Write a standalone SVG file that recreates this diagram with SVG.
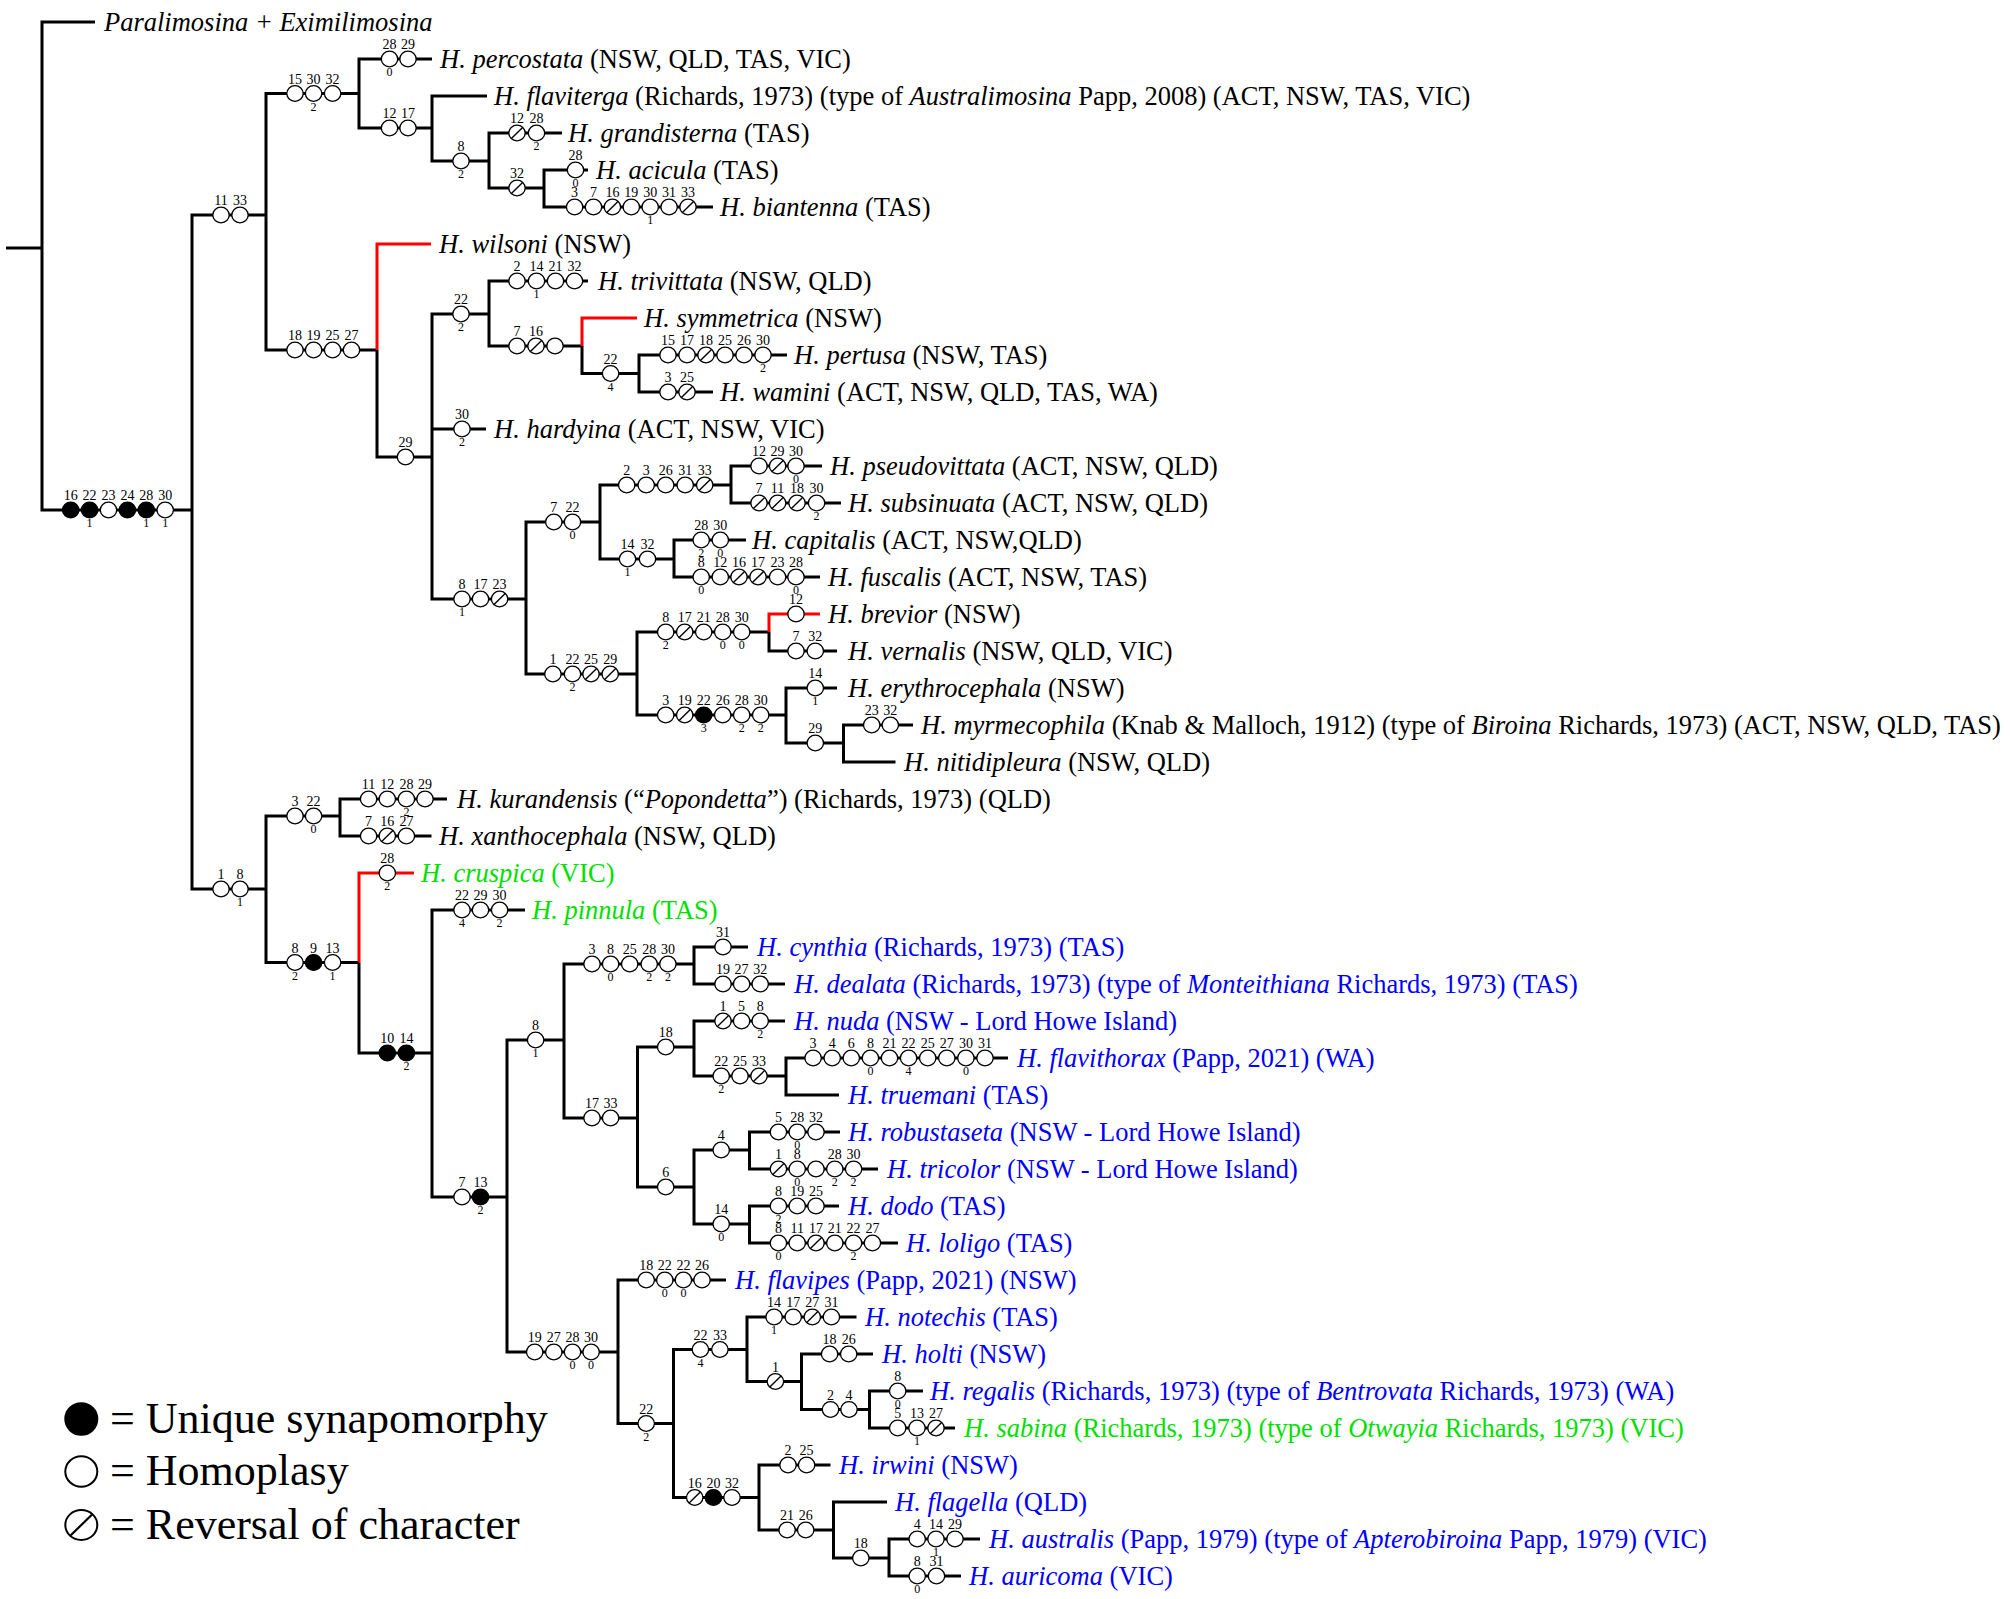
<svg xmlns="http://www.w3.org/2000/svg" xmlns:xlink="http://www.w3.org/1999/xlink" width="2012" height="1599" viewBox="0 0 2012 1599">
<style>
.k{fill:none;stroke:#000;stroke-width:3}
.rd{fill:none;stroke:#f00;stroke-width:3}
.t{font-family:"Liberation Serif","Times New Roman",serif;font-size:26.5px;fill:#000}
.i{font-style:italic}
.bl{fill:#00f}
.gr{fill:#00e000}
.a,.b{font-family:"Liberation Serif","Times New Roman",serif;text-anchor:middle;fill:#000}
.a{font-size:14px}
.b{font-size:12px}
.lg{font-family:"Liberation Serif","Times New Roman",serif;font-size:44px;fill:#000}
</style>
<defs>
<ellipse id="o" rx="8.2" ry="7.9" fill="#fff" stroke="#000" stroke-width="1.3"/>
<ellipse id="f" rx="8.2" ry="7.9" fill="#000" stroke="#000" stroke-width="1.3"/>
<g id="r"><ellipse rx="8.2" ry="7.9" fill="#fff" stroke="#000" stroke-width="1.3"/><path d="M-5.6,5.4 L5.6,-5.4" stroke="#000" stroke-width="1.4"/></g>
</defs>
<rect width="2012" height="1599" fill="#fff"/>
<g id="connectors">
<path class="k" d="M6,248 H42"/>
<path class="k" d="M95,22 H42 V510 H192"/>
<path class="k" d="M266,215 H192 V889 H266"/>
<path class="k" d="M359,93.5 H266 V350 H377"/>
<path class="k" d="M432,59 H359 V128 H432"/>
<path class="k" d="M487,96 H432 V161 H489"/>
<path class="k" d="M562,133 H489 V188 H544"/>
<path class="k" d="M588,170 H544 V207 H713"/>
<path class="rd" d="M431,244 H377 V350"/>
<path class="k" d="M377,350 V457 H432"/>
<path class="k" d="M489,314 H432 V599 H526 M432,429 H486"/>
<path class="k" d="M588,281 H489 V346 H582"/>
<path class="rd" d="M637,318 H582 V346"/>
<path class="k" d="M582,346 V373.5 H639"/>
<path class="k" d="M787,355 H639 V392 H713"/>
<path class="k" d="M600,522 H526 V674 H637"/>
<path class="k" d="M731,485 H600 V559 H674"/>
<path class="k" d="M822,466 H731 V503 H841"/>
<path class="k" d="M746,540 H674 V577 H820"/>
<path class="k" d="M769,632 H637 V715 H786"/>
<path class="rd" d="M820,614 H769 V632"/>
<path class="k" d="M769,632 V651 H837"/>
<path class="k" d="M837,688 H786 V743 H843.5"/>
<path class="k" d="M913,725 H843.5 V762 H895.5"/>
<path class="k" d="M340,816 H266 V962.5 H359"/>
<path class="k" d="M447,799 H340 V836 H431.5"/>
<path class="rd" d="M414,873 H359 V962.5"/>
<path class="k" d="M359,962.5 V1053 H432"/>
<path class="k" d="M525,910 H432 V1197 H507"/>
<path class="k" d="M564,1040 H507 V1352 H618"/>
<path class="k" d="M694,964 H564 V1118 H637.5"/>
<path class="k" d="M748,947 H694 V984 H785"/>
<path class="k" d="M694,1047 H637.5 V1187 H694"/>
<path class="k" d="M785,1021 H694 V1076 H786"/>
<path class="k" d="M1008,1058 H786 V1095 H839"/>
<path class="k" d="M749.5,1150 H694 V1224 H749.5"/>
<path class="k" d="M840,1132 H749.5 V1169 H878"/>
<path class="k" d="M839,1206 H749.5 V1243 H898"/>
<path class="k" d="M726,1280 H618 V1423.5 H673.5"/>
<path class="k" d="M747,1349.5 H673.5 V1497.5 H759"/>
<path class="k" d="M856.5,1317 H747 V1381.5 H801.5"/>
<path class="k" d="M873,1354 H801.5 V1409.5 H869.5"/>
<path class="k" d="M923,1391 H869.5 V1428 H955"/>
<path class="k" d="M830.5,1465 H759 V1530 H833.5"/>
<path class="k" d="M887,1502 H833.5 V1558 H889"/>
<path class="k" d="M980,1539 H889 V1576 H961"/>
</g>
<g id="characters">
<g id="ch-ingroup" transform="translate(0,510)"><use href="#f" x="70.7"/><use href="#f" x="89.6"/><use href="#o" x="108.5"/><use href="#f" x="127.4"/><use href="#f" x="146.3"/><use href="#o" x="165.2"/><text class="a" x="70.7" y="-10">16</text><text class="a" x="89.6" y="-10">22</text><text class="a" x="108.5" y="-10">23</text><text class="a" x="127.4" y="-10">24</text><text class="a" x="146.3" y="-10">28</text><text class="a" x="165.2" y="-10">30</text><text class="b" x="89.6" y="17">1</text><text class="b" x="146.3" y="17">1</text><text class="b" x="165.2" y="17">1</text></g>
<g id="ch-1133" transform="translate(0,215)"><use href="#o" x="221"/><use href="#o" x="240"/><text class="a" x="221" y="-10">11</text><text class="a" x="240" y="-10">33</text></g>
<g id="ch-153032" transform="translate(0,93.5)"><use href="#o" x="295"/><use href="#o" x="313.6"/><use href="#o" x="332.6"/><text class="a" x="295" y="-10">15</text><text class="a" x="313.6" y="-10">30</text><text class="a" x="332.6" y="-10">32</text><text class="b" x="313.6" y="17">2</text></g>
<g id="ch-percostata" transform="translate(0,59)"><use href="#o" x="389.5"/><use href="#o" x="408"/><text class="a" x="389.5" y="-10">28</text><text class="a" x="408" y="-10">29</text><text class="b" x="389.5" y="17">0</text></g>
<g id="ch-1217" transform="translate(0,128)"><use href="#o" x="389.5"/><use href="#o" x="408"/><text class="a" x="389.5" y="-10">12</text><text class="a" x="408" y="-10">17</text></g>
<g id="ch-8a" transform="translate(0,161)"><use href="#o" x="461"/><text class="a" x="461" y="-10">8</text><text class="b" x="461" y="17">2</text></g>
<g id="ch-grandisterna" transform="translate(0,133)"><use href="#r" x="517"/><use href="#o" x="536.5"/><text class="a" x="517" y="-10">12</text><text class="a" x="536.5" y="-10">28</text><text class="b" x="536.5" y="17">2</text></g>
<g id="ch-32a" transform="translate(0,188)"><use href="#r" x="517"/><text class="a" x="517" y="-10">32</text></g>
<g id="ch-acicula" transform="translate(0,170)"><use href="#o" x="575.5"/><text class="a" x="575.5" y="-10">28</text><text class="b" x="575.5" y="17">0</text></g>
<g id="ch-biantenna" transform="translate(0,207)"><use href="#o" x="574.6"/><use href="#o" x="593.5"/><use href="#r" x="612.4"/><use href="#o" x="631.3"/><use href="#o" x="650.2"/><use href="#o" x="669.1"/><use href="#r" x="688"/><text class="a" x="574.6" y="-10">3</text><text class="a" x="593.5" y="-10">7</text><text class="a" x="612.4" y="-10">16</text><text class="a" x="631.3" y="-10">19</text><text class="a" x="650.2" y="-10">30</text><text class="a" x="669.1" y="-10">31</text><text class="a" x="688" y="-10">33</text><text class="b" x="650.2" y="17">1</text></g>
<g id="ch-18192527" transform="translate(0,350)"><use href="#o" x="295"/><use href="#o" x="313.6"/><use href="#o" x="332.6"/><use href="#o" x="351.5"/><text class="a" x="295" y="-10">18</text><text class="a" x="313.6" y="-10">19</text><text class="a" x="332.6" y="-10">25</text><text class="a" x="351.5" y="-10">27</text></g>
<g id="ch-29a" transform="translate(0,457)"><use href="#o" x="405.5"/><text class="a" x="405.5" y="-10">29</text></g>
<g id="ch-22a" transform="translate(0,314)"><use href="#o" x="461"/><text class="a" x="461" y="-10">22</text><text class="b" x="461" y="17">2</text></g>
<g id="ch-trivittata" transform="translate(0,281)"><use href="#o" x="517"/><use href="#o" x="536.5"/><use href="#o" x="555.5"/><use href="#o" x="574.5"/><text class="a" x="517" y="-10">2</text><text class="a" x="536.5" y="-10">14</text><text class="a" x="555.5" y="-10">21</text><text class="a" x="574.5" y="-10">32</text><text class="b" x="536.5" y="17">1</text></g>
<g id="ch-hardyina" transform="translate(0,429)"><use href="#o" x="462"/><text class="a" x="462" y="-10">30</text><text class="b" x="462" y="17">2</text></g>
<g id="ch-716" transform="translate(0,346)"><use href="#o" x="517"/><use href="#r" x="536"/><use href="#o" x="555"/><text class="a" x="517" y="-10">7</text><text class="a" x="536" y="-10">16</text></g>
<g id="ch-22b" transform="translate(0,373.5)"><use href="#o" x="610.6"/><text class="a" x="610.6" y="-10">22</text><text class="b" x="610.6" y="17">4</text></g>
<g id="ch-pertusa" transform="translate(0,355)"><use href="#o" x="668"/><use href="#o" x="687"/><use href="#r" x="706"/><use href="#o" x="725"/><use href="#o" x="744"/><use href="#o" x="763"/><text class="a" x="668" y="-10">15</text><text class="a" x="687" y="-10">17</text><text class="a" x="706" y="-10">18</text><text class="a" x="725" y="-10">25</text><text class="a" x="744" y="-10">26</text><text class="a" x="763" y="-10">30</text><text class="b" x="763" y="17">2</text></g>
<g id="ch-wamini" transform="translate(0,392)"><use href="#o" x="668"/><use href="#r" x="687"/><text class="a" x="668" y="-10">3</text><text class="a" x="687" y="-10">25</text></g>
<g id="ch-81723" transform="translate(0,599)"><use href="#o" x="462"/><use href="#o" x="480.5"/><use href="#r" x="499.6"/><text class="a" x="462" y="-10">8</text><text class="a" x="480.5" y="-10">17</text><text class="a" x="499.6" y="-10">23</text><text class="b" x="462" y="17">1</text></g>
<g id="ch-722" transform="translate(0,522)"><use href="#o" x="553.8"/><use href="#o" x="572.5"/><text class="a" x="553.8" y="-10">7</text><text class="a" x="572.5" y="-10">22</text><text class="b" x="572.5" y="17">0</text></g>
<g id="ch-23263133" transform="translate(0,485)"><use href="#o" x="626.7"/><use href="#o" x="646.2"/><use href="#o" x="665.7"/><use href="#o" x="685.2"/><use href="#r" x="704.7"/><text class="a" x="626.7" y="-10">2</text><text class="a" x="646.2" y="-10">3</text><text class="a" x="665.7" y="-10">26</text><text class="a" x="685.2" y="-10">31</text><text class="a" x="704.7" y="-10">33</text></g>
<g id="ch-pseudovittata" transform="translate(0,466)"><use href="#o" x="759"/><use href="#r" x="777.6"/><use href="#o" x="796"/><text class="a" x="759" y="-10">12</text><text class="a" x="777.6" y="-10">29</text><text class="a" x="796" y="-10">30</text><text class="b" x="796" y="17">0</text></g>
<g id="ch-subsinuata" transform="translate(0,503)"><use href="#r" x="759"/><use href="#r" x="777.6"/><use href="#r" x="797"/><use href="#o" x="816.6"/><text class="a" x="759" y="-10">7</text><text class="a" x="777.6" y="-10">11</text><text class="a" x="797" y="-10">18</text><text class="a" x="816.6" y="-10">30</text><text class="b" x="816.6" y="17">2</text></g>
<g id="ch-1432" transform="translate(0,559)"><use href="#o" x="627.5"/><use href="#o" x="647.5"/><text class="a" x="627.5" y="-10">14</text><text class="a" x="647.5" y="-10">32</text><text class="b" x="627.5" y="17">1</text></g>
<g id="ch-capitalis" transform="translate(0,540)"><use href="#o" x="701.2"/><use href="#o" x="720.3"/><text class="a" x="701.2" y="-10">28</text><text class="a" x="720.3" y="-10">30</text><text class="b" x="701.2" y="17">2</text><text class="b" x="720.3" y="17">0</text></g>
<g id="ch-fuscalis" transform="translate(0,577)"><use href="#o" x="701.2"/><use href="#o" x="720.3"/><use href="#r" x="739"/><use href="#r" x="758"/><use href="#o" x="777.6"/><use href="#o" x="796"/><text class="a" x="701.2" y="-10">8</text><text class="a" x="720.3" y="-10">12</text><text class="a" x="739" y="-10">16</text><text class="a" x="758" y="-10">17</text><text class="a" x="777.6" y="-10">23</text><text class="a" x="796" y="-10">28</text><text class="b" x="701.2" y="17">0</text><text class="b" x="796" y="17">0</text></g>
<g id="ch-1222529" transform="translate(0,674)"><use href="#o" x="552.9"/><use href="#o" x="572.5"/><use href="#r" x="591"/><use href="#r" x="610.2"/><text class="a" x="552.9" y="-10">1</text><text class="a" x="572.5" y="-10">22</text><text class="a" x="591" y="-10">25</text><text class="a" x="610.2" y="-10">29</text><text class="b" x="572.5" y="17">2</text></g>
<g id="ch-817212830" transform="translate(0,632)"><use href="#o" x="665.7"/><use href="#r" x="684.7"/><use href="#o" x="703.7"/><use href="#o" x="722.7"/><use href="#o" x="741.7"/><text class="a" x="665.7" y="-10">8</text><text class="a" x="684.7" y="-10">17</text><text class="a" x="703.7" y="-10">21</text><text class="a" x="722.7" y="-10">28</text><text class="a" x="741.7" y="-10">30</text><text class="b" x="665.7" y="17">2</text><text class="b" x="722.7" y="17">0</text><text class="b" x="741.7" y="17">0</text></g>
<g id="ch-brevior" transform="translate(0,614)"><use href="#o" x="796"/><text class="a" x="796" y="-10">12</text></g>
<g id="ch-vernalis" transform="translate(0,651)"><use href="#o" x="796"/><use href="#o" x="815.3"/><text class="a" x="796" y="-10">7</text><text class="a" x="815.3" y="-10">32</text></g>
<g id="ch-31922262830" transform="translate(0,715)"><use href="#o" x="665.7"/><use href="#r" x="684.7"/><use href="#f" x="703.7"/><use href="#o" x="722.7"/><use href="#o" x="741.7"/><use href="#o" x="760.7"/><text class="a" x="665.7" y="-10">3</text><text class="a" x="684.7" y="-10">19</text><text class="a" x="703.7" y="-10">22</text><text class="a" x="722.7" y="-10">26</text><text class="a" x="741.7" y="-10">28</text><text class="a" x="760.7" y="-10">30</text><text class="b" x="703.7" y="17">3</text><text class="b" x="741.7" y="17">2</text><text class="b" x="760.7" y="17">2</text></g>
<g id="ch-erythrocephala" transform="translate(0,688)"><use href="#o" x="815.3"/><text class="a" x="815.3" y="-10">14</text><text class="b" x="815.3" y="17">1</text></g>
<g id="ch-29b" transform="translate(0,743)"><use href="#o" x="815.3"/><text class="a" x="815.3" y="-10">29</text></g>
<g id="ch-myrmecophila" transform="translate(0,725)"><use href="#o" x="871.7"/><use href="#o" x="890.3"/><text class="a" x="871.7" y="-10">23</text><text class="a" x="890.3" y="-10">32</text></g>
<g id="ch-18" transform="translate(0,889)"><use href="#o" x="221"/><use href="#o" x="240"/><text class="a" x="221" y="-10">1</text><text class="a" x="240" y="-10">8</text><text class="b" x="240" y="17">1</text></g>
<g id="ch-322" transform="translate(0,816)"><use href="#o" x="295"/><use href="#o" x="313.6"/><text class="a" x="295" y="-10">3</text><text class="a" x="313.6" y="-10">22</text><text class="b" x="313.6" y="17">0</text></g>
<g id="ch-kurandensis" transform="translate(0,799)"><use href="#o" x="368.6"/><use href="#o" x="387.3"/><use href="#o" x="406.4"/><use href="#o" x="425"/><text class="a" x="368.6" y="-10">11</text><text class="a" x="387.3" y="-10">12</text><text class="a" x="406.4" y="-10">28</text><text class="a" x="425" y="-10">29</text><text class="b" x="406.4" y="17">2</text></g>
<g id="ch-xanthocephala" transform="translate(0,836)"><use href="#o" x="368.6"/><use href="#r" x="387.3"/><use href="#o" x="406.4"/><text class="a" x="368.6" y="-10">7</text><text class="a" x="387.3" y="-10">16</text><text class="a" x="406.4" y="-10">27</text></g>
<g id="ch-8913" transform="translate(0,962.5)"><use href="#o" x="295"/><use href="#f" x="313.6"/><use href="#o" x="332.6"/><text class="a" x="295" y="-10">8</text><text class="a" x="313.6" y="-10">9</text><text class="a" x="332.6" y="-10">13</text><text class="b" x="295" y="17">2</text><text class="b" x="332.6" y="17">1</text></g>
<g id="ch-cruspica" transform="translate(0,873)"><use href="#o" x="387.3"/><text class="a" x="387.3" y="-10">28</text><text class="b" x="387.3" y="17">2</text></g>
<g id="ch-1014" transform="translate(0,1053)"><use href="#f" x="387.3"/><use href="#f" x="406.4"/><text class="a" x="387.3" y="-10">10</text><text class="a" x="406.4" y="-10">14</text><text class="b" x="406.4" y="17">2</text></g>
<g id="ch-pinnula" transform="translate(0,910)"><use href="#o" x="462"/><use href="#o" x="480.5"/><use href="#o" x="499.6"/><text class="a" x="462" y="-10">22</text><text class="a" x="480.5" y="-10">29</text><text class="a" x="499.6" y="-10">30</text><text class="b" x="462" y="17">4</text><text class="b" x="499.6" y="17">2</text></g>
<g id="ch-713" transform="translate(0,1197)"><use href="#o" x="462"/><use href="#f" x="480.5"/><text class="a" x="462" y="-10">7</text><text class="a" x="480.5" y="-10">13</text><text class="b" x="480.5" y="17">2</text></g>
<g id="ch-8b" transform="translate(0,1040)"><use href="#o" x="535.6"/><text class="a" x="535.6" y="-10">8</text><text class="b" x="535.6" y="17">1</text></g>
<g id="ch-38252830" transform="translate(0,964)"><use href="#o" x="592"/><use href="#o" x="610.6"/><use href="#o" x="629.7"/><use href="#o" x="649.2"/><use href="#o" x="667.9"/><text class="a" x="592" y="-10">3</text><text class="a" x="610.6" y="-10">8</text><text class="a" x="629.7" y="-10">25</text><text class="a" x="649.2" y="-10">28</text><text class="a" x="667.9" y="-10">30</text><text class="b" x="610.6" y="17">0</text><text class="b" x="649.2" y="17">2</text><text class="b" x="667.9" y="17">2</text></g>
<g id="ch-cynthia" transform="translate(0,947)"><use href="#o" x="723"/><text class="a" x="723" y="-10">31</text></g>
<g id="ch-dealata" transform="translate(0,984)"><use href="#o" x="723"/><use href="#o" x="741.6"/><use href="#o" x="760.2"/><text class="a" x="723" y="-10">19</text><text class="a" x="741.6" y="-10">27</text><text class="a" x="760.2" y="-10">32</text></g>
<g id="ch-1733" transform="translate(0,1118)"><use href="#o" x="592"/><use href="#o" x="610.6"/><text class="a" x="592" y="-10">17</text><text class="a" x="610.6" y="-10">33</text></g>
<g id="ch-18b" transform="translate(0,1047)"><use href="#o" x="665.7"/><text class="a" x="665.7" y="-10">18</text></g>
<g id="ch-nuda" transform="translate(0,1021)"><use href="#r" x="723"/><use href="#o" x="741.6"/><use href="#o" x="760.2"/><text class="a" x="723" y="-10">1</text><text class="a" x="741.6" y="-10">5</text><text class="a" x="760.2" y="-10">8</text><text class="b" x="760.2" y="17">2</text></g>
<g id="ch-222533" transform="translate(0,1076)"><use href="#o" x="721.2"/><use href="#o" x="740"/><use href="#r" x="759"/><text class="a" x="721.2" y="-10">22</text><text class="a" x="740" y="-10">25</text><text class="a" x="759" y="-10">33</text><text class="b" x="721.2" y="17">2</text></g>
<g id="ch-flavithorax" transform="translate(0,1058)"><use href="#o" x="813.1"/><use href="#o" x="832.2"/><use href="#o" x="851.3"/><use href="#o" x="870.4"/><use href="#o" x="889.5"/><use href="#o" x="908.6"/><use href="#o" x="927.7"/><use href="#o" x="946.8"/><use href="#o" x="965.9"/><use href="#o" x="985"/><text class="a" x="813.1" y="-10">3</text><text class="a" x="832.2" y="-10">4</text><text class="a" x="851.3" y="-10">6</text><text class="a" x="870.4" y="-10">8</text><text class="a" x="889.5" y="-10">21</text><text class="a" x="908.6" y="-10">22</text><text class="a" x="927.7" y="-10">25</text><text class="a" x="946.8" y="-10">27</text><text class="a" x="965.9" y="-10">30</text><text class="a" x="985" y="-10">31</text><text class="b" x="870.4" y="17">0</text><text class="b" x="908.6" y="17">4</text><text class="b" x="965.9" y="17">0</text></g>
<g id="ch-6" transform="translate(0,1187)"><use href="#o" x="665.7"/><text class="a" x="665.7" y="-10">6</text></g>
<g id="ch-4" transform="translate(0,1150)"><use href="#o" x="721.2"/><text class="a" x="721.2" y="-10">4</text></g>
<g id="ch-robustaseta" transform="translate(0,1132)"><use href="#o" x="778.4"/><use href="#o" x="797.2"/><use href="#o" x="816"/><text class="a" x="778.4" y="-10">5</text><text class="a" x="797.2" y="-10">28</text><text class="a" x="816" y="-10">32</text><text class="b" x="797.2" y="17">0</text></g>
<g id="ch-tricolor" transform="translate(0,1169)"><use href="#r" x="778.4"/><use href="#o" x="797.2"/><use href="#o" x="816"/><use href="#o" x="834.8"/><use href="#o" x="853.6"/><text class="a" x="778.4" y="-10">1</text><text class="a" x="797.2" y="-10">8</text><text class="a" x="834.8" y="-10">28</text><text class="a" x="853.6" y="-10">30</text><text class="b" x="797.2" y="17">0</text><text class="b" x="834.8" y="17">2</text><text class="b" x="853.6" y="17">2</text></g>
<g id="ch-14" transform="translate(0,1224)"><use href="#o" x="721.2"/><text class="a" x="721.2" y="-10">14</text><text class="b" x="721.2" y="17">0</text></g>
<g id="ch-dodo" transform="translate(0,1206)"><use href="#o" x="778.4"/><use href="#o" x="797.2"/><use href="#o" x="816"/><text class="a" x="778.4" y="-10">8</text><text class="a" x="797.2" y="-10">19</text><text class="a" x="816" y="-10">25</text><text class="b" x="778.4" y="17">2</text></g>
<g id="ch-loligo" transform="translate(0,1243)"><use href="#o" x="778.4"/><use href="#o" x="797.2"/><use href="#r" x="816"/><use href="#o" x="834.8"/><use href="#o" x="853.6"/><use href="#o" x="872.4"/><text class="a" x="778.4" y="-10">8</text><text class="a" x="797.2" y="-10">11</text><text class="a" x="816" y="-10">17</text><text class="a" x="834.8" y="-10">21</text><text class="a" x="853.6" y="-10">22</text><text class="a" x="872.4" y="-10">27</text><text class="b" x="778.4" y="17">0</text><text class="b" x="853.6" y="17">2</text></g>
<g id="ch-19272830" transform="translate(0,1352)"><use href="#o" x="534.7"/><use href="#o" x="553.8"/><use href="#o" x="572.5"/><use href="#o" x="591.1"/><text class="a" x="534.7" y="-10">19</text><text class="a" x="553.8" y="-10">27</text><text class="a" x="572.5" y="-10">28</text><text class="a" x="591.1" y="-10">30</text><text class="b" x="572.5" y="17">0</text><text class="b" x="591.1" y="17">0</text></g>
<g id="ch-flavipes" transform="translate(0,1280)"><use href="#o" x="646.2"/><use href="#o" x="664.8"/><use href="#o" x="683.4"/><use href="#o" x="702"/><text class="a" x="646.2" y="-10">18</text><text class="a" x="664.8" y="-10">22</text><text class="a" x="683.4" y="-10">22</text><text class="a" x="702" y="-10">26</text><text class="b" x="664.8" y="17">0</text><text class="b" x="683.4" y="17">0</text></g>
<g id="ch-22c" transform="translate(0,1423.5)"><use href="#o" x="646.2"/><text class="a" x="646.2" y="-10">22</text><text class="b" x="646.2" y="17">2</text></g>
<g id="ch-2233" transform="translate(0,1349.5)"><use href="#o" x="700.4"/><use href="#o" x="719.9"/><text class="a" x="700.4" y="-10">22</text><text class="a" x="719.9" y="-10">33</text><text class="b" x="700.4" y="17">4</text></g>
<g id="ch-notechis" transform="translate(0,1317)"><use href="#o" x="774.1"/><use href="#o" x="793.2"/><use href="#r" x="812.3"/><use href="#o" x="831.4"/><text class="a" x="774.1" y="-10">14</text><text class="a" x="793.2" y="-10">17</text><text class="a" x="812.3" y="-10">27</text><text class="a" x="831.4" y="-10">31</text><text class="b" x="774.1" y="17">1</text></g>
<g id="ch-1" transform="translate(0,1381.5)"><use href="#r" x="775.4"/><text class="a" x="775.4" y="-10">1</text></g>
<g id="ch-holti" transform="translate(0,1354)"><use href="#o" x="829.6"/><use href="#o" x="848.7"/><text class="a" x="829.6" y="-10">18</text><text class="a" x="848.7" y="-10">26</text></g>
<g id="ch-24" transform="translate(0,1409.5)"><use href="#o" x="830.5"/><use href="#o" x="849"/><text class="a" x="830.5" y="-10">2</text><text class="a" x="849" y="-10">4</text></g>
<g id="ch-regalis" transform="translate(0,1391)"><use href="#o" x="897.7"/><text class="a" x="897.7" y="-10">8</text><text class="b" x="897.7" y="17">0</text></g>
<g id="ch-sabina" transform="translate(0,1428)"><use href="#o" x="897.7"/><use href="#o" x="917"/><use href="#r" x="936"/><text class="a" x="897.7" y="-10">5</text><text class="a" x="917" y="-10">13</text><text class="a" x="936" y="-10">27</text><text class="b" x="917" y="17">1</text></g>
<g id="ch-162032" transform="translate(0,1497.5)"><use href="#r" x="694.7"/><use href="#f" x="713.4"/><use href="#o" x="732"/><text class="a" x="694.7" y="-10">16</text><text class="a" x="713.4" y="-10">20</text><text class="a" x="732" y="-10">32</text></g>
<g id="ch-irwini" transform="translate(0,1465)"><use href="#o" x="788"/><use href="#o" x="806.6"/><text class="a" x="788" y="-10">2</text><text class="a" x="806.6" y="-10">25</text></g>
<g id="ch-2126" transform="translate(0,1530)"><use href="#o" x="787.1"/><use href="#o" x="805.7"/><text class="a" x="787.1" y="-10">21</text><text class="a" x="805.7" y="-10">26</text></g>
<g id="ch-18c" transform="translate(0,1558)"><use href="#o" x="860.8"/><text class="a" x="860.8" y="-10">18</text></g>
<g id="ch-australis" transform="translate(0,1539)"><use href="#o" x="917.2"/><use href="#o" x="936"/><use href="#o" x="955"/><text class="a" x="917.2" y="-10">4</text><text class="a" x="936" y="-10">14</text><text class="a" x="955" y="-10">29</text><text class="b" x="936" y="17">1</text></g>
<g id="ch-auricoma" transform="translate(0,1576)"><use href="#o" x="917.2"/><use href="#o" x="936.5"/><text class="a" x="917.2" y="-10">8</text><text class="a" x="936.5" y="-10">31</text><text class="b" x="917.2" y="17">0</text></g>
</g>
<g id="taxa">
<g id="t-outgroup"><text class="t i" x="104" y="31">Paralimosina + Eximilimosina</text></g>
<g id="t-percostata"><text class="t" x="440" y="68"><tspan class="i">H. percostata</tspan> (NSW, QLD, TAS, VIC)</text></g>
<g id="t-flaviterga"><text class="t" x="494" y="105"><tspan class="i">H. flaviterga</tspan> (Richards, 1973) (type of <tspan class="i">Australimosina</tspan> Papp, 2008) (ACT, NSW, TAS, VIC)</text></g>
<g id="t-grandisterna"><text class="t" x="568" y="142"><tspan class="i">H. grandisterna</tspan> (TAS)</text></g>
<g id="t-acicula"><text class="t" x="596" y="179"><tspan class="i">H. acicula</tspan> (TAS)</text></g>
<g id="t-biantenna"><text class="t" x="720" y="216"><tspan class="i">H. biantenna</tspan> (TAS)</text></g>
<g id="t-wilsoni"><text class="t" x="439" y="253"><tspan class="i">H. wilsoni</tspan> (NSW)</text></g>
<g id="t-trivittata"><text class="t" x="598" y="290"><tspan class="i">H. trivittata</tspan> (NSW, QLD)</text></g>
<g id="t-symmetrica"><text class="t" x="644" y="327"><tspan class="i">H. symmetrica</tspan> (NSW)</text></g>
<g id="t-pertusa"><text class="t" x="794" y="364"><tspan class="i">H. pertusa</tspan> (NSW, TAS)</text></g>
<g id="t-wamini"><text class="t" x="720" y="401"><tspan class="i">H. wamini</tspan> (ACT, NSW, QLD, TAS, WA)</text></g>
<g id="t-hardyina"><text class="t" x="494" y="438"><tspan class="i">H. hardyina</tspan> (ACT, NSW, VIC)</text></g>
<g id="t-pseudovittata"><text class="t" x="830" y="475"><tspan class="i">H. pseudovittata</tspan> (ACT, NSW, QLD)</text></g>
<g id="t-subsinuata"><text class="t" x="848" y="512"><tspan class="i">H. subsinuata</tspan> (ACT, NSW, QLD)</text></g>
<g id="t-capitalis"><text class="t" x="752" y="549"><tspan class="i">H. capitalis</tspan> (ACT, NSW,QLD)</text></g>
<g id="t-fuscalis"><text class="t" x="828" y="586"><tspan class="i">H. fuscalis</tspan> (ACT, NSW, TAS)</text></g>
<g id="t-brevior"><text class="t" x="828" y="623"><tspan class="i">H. brevior</tspan> (NSW)</text></g>
<g id="t-vernalis"><text class="t" x="848" y="660"><tspan class="i">H. vernalis</tspan> (NSW, QLD, VIC)</text></g>
<g id="t-erythrocephala"><text class="t" x="848" y="697"><tspan class="i">H. erythrocephala</tspan> (NSW)</text></g>
<g id="t-myrmecophila"><text class="t" x="921" y="734"><tspan class="i">H. myrmecophila</tspan> (Knab &amp; Malloch, 1912) (type of <tspan class="i">Biroina</tspan> Richards, 1973) (ACT, NSW, QLD, TAS)</text></g>
<g id="t-nitidipleura"><text class="t" x="904" y="771"><tspan class="i">H. nitidipleura</tspan> (NSW, QLD)</text></g>
<g id="t-kurandensis"><text class="t" x="457" y="808"><tspan class="i">H. kurandensis</tspan> (“<tspan class="i">Popondetta</tspan>”) (Richards, 1973) (QLD)</text></g>
<g id="t-xanthocephala"><text class="t" x="439" y="845"><tspan class="i">H. xanthocephala</tspan> (NSW, QLD)</text></g>
<g id="t-cruspica"><text class="t gr" x="421" y="882"><tspan class="i">H. cruspica</tspan> (VIC)</text></g>
<g id="t-pinnula"><text class="t gr" x="532" y="919"><tspan class="i">H. pinnula</tspan> (TAS)</text></g>
<g id="t-cynthia"><text class="t bl" x="757" y="956"><tspan class="i">H. cynthia</tspan> (Richards, 1973) (TAS)</text></g>
<g id="t-dealata"><text class="t bl" x="794" y="993"><tspan class="i">H. dealata</tspan> (Richards, 1973) (type of <tspan class="i">Monteithiana</tspan> Richards, 1973) (TAS)</text></g>
<g id="t-nuda"><text class="t bl" x="794" y="1030"><tspan class="i">H. nuda</tspan> (NSW - Lord Howe Island)</text></g>
<g id="t-flavithorax"><text class="t bl" x="1017" y="1067"><tspan class="i">H. flavithorax</tspan> (Papp, 2021) (WA)</text></g>
<g id="t-truemani"><text class="t bl" x="848" y="1104"><tspan class="i">H. truemani</tspan> (TAS)</text></g>
<g id="t-robustaseta"><text class="t bl" x="848" y="1141"><tspan class="i">H. robustaseta</tspan> (NSW - Lord Howe Island)</text></g>
<g id="t-tricolor"><text class="t bl" x="887" y="1178"><tspan class="i">H. tricolor</tspan> (NSW - Lord Howe Island)</text></g>
<g id="t-dodo"><text class="t bl" x="848" y="1215"><tspan class="i">H. dodo</tspan> (TAS)</text></g>
<g id="t-loligo"><text class="t bl" x="906" y="1252"><tspan class="i">H. loligo</tspan> (TAS)</text></g>
<g id="t-flavipes"><text class="t bl" x="735" y="1289"><tspan class="i">H. flavipes</tspan> (Papp, 2021) (NSW)</text></g>
<g id="t-notechis"><text class="t bl" x="865" y="1326"><tspan class="i">H. notechis</tspan> (TAS)</text></g>
<g id="t-holti"><text class="t bl" x="882" y="1363"><tspan class="i">H. holti</tspan> (NSW)</text></g>
<g id="t-regalis"><text class="t bl" x="930" y="1400"><tspan class="i">H. regalis</tspan> (Richards, 1973) (type of <tspan class="i">Bentrovata</tspan> Richards, 1973) (WA)</text></g>
<g id="t-sabina"><text class="t gr" x="964" y="1437"><tspan class="i">H. sabina</tspan> (Richards, 1973) (type of <tspan class="i">Otwayia</tspan> Richards, 1973) (VIC)</text></g>
<g id="t-irwini"><text class="t bl" x="839" y="1474"><tspan class="i">H. irwini</tspan> (NSW)</text></g>
<g id="t-flagella"><text class="t bl" x="895" y="1511"><tspan class="i">H. flagella</tspan> (QLD)</text></g>
<g id="t-australis"><text class="t bl" x="989" y="1548"><tspan class="i">H. australis</tspan> (Papp, 1979) (type of <tspan class="i">Apterobiroina</tspan> Papp, 1979) (VIC)</text></g>
<g id="t-auricoma"><text class="t bl" x="969" y="1585"><tspan class="i">H. auricoma</tspan> (VIC)</text></g>
</g>
<g id="legend">
<ellipse cx="81.3" cy="1419" rx="16" ry="15.8" fill="#000" stroke="#000" stroke-width="2"/>
<text class="lg" x="110" y="1433">= Unique synapomorphy</text>
<ellipse cx="81.3" cy="1471.5" rx="16" ry="15.3" fill="#fff" stroke="#000" stroke-width="2"/>
<text class="lg" x="110" y="1485">= Homoplasy</text>
<ellipse cx="81.3" cy="1525" rx="16" ry="15" fill="#fff" stroke="#000" stroke-width="2"/>
<path d="M70,1536 L92.6,1514" stroke="#000" stroke-width="2.2"/>
<text class="lg" x="110" y="1539">= Reversal of character</text>
</g>
</svg>
